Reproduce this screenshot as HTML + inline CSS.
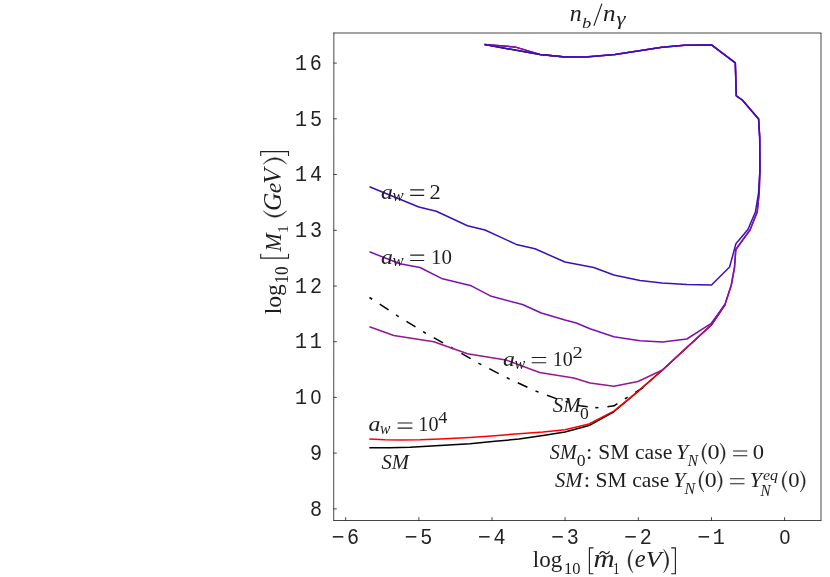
<!DOCTYPE html>
<html><head><meta charset="utf-8"><title>plot</title>
<style>
html,body{margin:0;padding:0;background:#fff;}
svg{display:block;will-change:transform;transform:translateZ(0)}
.mono text{font-family:"Liberation Mono",monospace;font-size:21.6px;letter-spacing:0;fill:#222}
.ser{font-family:"Liberation Serif",serif;font-size:21.5px;fill:#1e1e1e}
.it{font-style:italic}
.sub{font-size:15.5px}
.c{fill:none;stroke-width:1.5;stroke-linejoin:round}
</style></head><body>
<svg width="830" height="577" viewBox="0 0 830 577">
<rect x="0" y="0" width="830" height="577" fill="#fff"/>
<g stroke="#000" stroke-width="0.72" fill="none">
<line x1="333.5" y1="33" x2="821.36" y2="33"/><line x1="821" y1="33" x2="821" y2="520.5"/>
<line x1="333.85" y1="32.64" x2="333.7" y2="520.86"/><line x1="333.5" y1="520.5" x2="821.36" y2="520.5"/>
<line x1="333.5" y1="508.9" x2="336.8" y2="508.9"/><line x1="333.5" y1="453.1" x2="336.8" y2="453.1"/><line x1="333.5" y1="397.4" x2="336.8" y2="397.4"/><line x1="333.5" y1="341.7" x2="336.8" y2="341.7"/><line x1="333.5" y1="286.0" x2="336.8" y2="286.0"/><line x1="333.5" y1="230.3" x2="336.8" y2="230.3"/><line x1="333.5" y1="174.5" x2="336.8" y2="174.5"/><line x1="333.5" y1="118.8" x2="336.8" y2="118.8"/><line x1="333.5" y1="63.1" x2="336.8" y2="63.1"/><line x1="345.7" y1="520.5" x2="345.7" y2="517.2"/><line x1="418.9" y1="520.5" x2="418.9" y2="517.2"/><line x1="492.0" y1="520.5" x2="492.0" y2="517.2"/><line x1="565.1" y1="520.5" x2="565.1" y2="517.2"/><line x1="638.3" y1="520.5" x2="638.3" y2="517.2"/><line x1="711.5" y1="520.5" x2="711.5" y2="517.2"/><line x1="784.6" y1="520.5" x2="784.6" y2="517.2"/>
</g>
<g class="mono"><text transform="translate(309.97,515.56) scale(0.93,1)">8</text><text transform="translate(309.97,459.84) scale(0.93,1)">9</text><text transform="translate(310.58,404.12) scale(0.95,1)" style="font-family:'Liberation Sans',sans-serif;font-size:20.5px;letter-spacing:0">0</text><text transform="translate(295.03,404.12) scale(0.93,1)">1</text><text transform="translate(309.73,348.40) scale(0.93,1)">1</text><text transform="translate(295.03,348.40) scale(0.93,1)">1</text><text transform="translate(309.97,292.68) scale(0.93,1)">2</text><text transform="translate(295.03,292.68) scale(0.93,1)">1</text><text transform="translate(309.98,236.96) scale(0.93,1)">3</text><text transform="translate(295.03,236.96) scale(0.93,1)">1</text><text transform="translate(309.97,181.24) scale(0.93,1)">4</text><text transform="translate(295.03,181.24) scale(0.93,1)">1</text><text transform="translate(309.98,125.52) scale(0.93,1)">5</text><text transform="translate(295.03,125.52) scale(0.93,1)">1</text><text transform="translate(309.87,69.80) scale(0.93,1)">6</text><text transform="translate(295.03,69.80) scale(0.93,1)">1</text><text transform="translate(331.72,544.40) scale(1.0,1)">−</text><text transform="translate(347.07,544.40) scale(0.93,1)">6</text><text transform="translate(404.87,544.40) scale(1.0,1)">−</text><text transform="translate(420.33,544.40) scale(0.93,1)">5</text><text transform="translate(478.02,544.40) scale(1.0,1)">−</text><text transform="translate(493.47,544.40) scale(0.93,1)">4</text><text transform="translate(551.17,544.40) scale(1.0,1)">−</text><text transform="translate(566.63,544.40) scale(0.93,1)">3</text><text transform="translate(624.32,544.40) scale(1.0,1)">−</text><text transform="translate(639.77,544.40) scale(0.93,1)">2</text><text transform="translate(697.47,544.40) scale(1.0,1)">−</text><text transform="translate(712.68,544.40) scale(0.93,1)">1</text><text transform="translate(779.48,544.40) scale(0.95,1)" style="font-family:'Liberation Sans',sans-serif;font-size:20.5px;letter-spacing:0">0</text></g>
<polyline class="c" stroke="#000" stroke-width="1.8" stroke-dasharray="3.2 9 10.6 9" points="369.5,297.5 397.5,315.8 424.5,332.5 451.3,347.5 478.8,363.3 506.3,377.5 536.3,391.3 556.3,398.6 580.0,405.8 595.3,407.6"/>
<polyline class="c" stroke="#000" stroke-width="1.8" stroke-dasharray="3.2 9 10.6 9" points="595.3,407.6 596.6,407.8 607.0,406.8 614.1,405.8 626.1,398.1 643.2,387.6"/>
<polyline class="c" stroke="#000" points="725.0,304.5 711.3,325.0 686.8,347.5 662.5,370.0 638.0,391.4 613.8,411.8 589.0,425.6 565.0,431.9 543.0,435.5 519.0,439.1 495.0,441.3 470.0,443.7 440.0,445.5 410.0,447.3 390.0,447.7 369.3,447.7"/>
<polyline class="c" stroke="#000" points="484.6,44.6 540.0,54.5 565.4,57.0"/>
<polyline class="c" stroke="#ff0000" points="725.0,304.5 711.3,325.0 686.8,347.5 662.5,370.0 638.0,391.3 613.8,411.1 589.0,424.0 565.0,429.7 543.0,431.9 519.0,433.7 495.0,435.7 470.0,437.4 440.0,439.1 420.0,439.8 400.0,440.0 385.0,439.7 369.3,439.0"/>
<polyline class="c" stroke="#9a1590" points="484.6,44.6 514.8,46.9 540.0,54.4 565.4,56.9 587.5,56.7 615.0,54.5 662.0,47.2 684.5,45.2 711.5,44.9 735.3,62.8 736.3,95.8 742.3,100.0 758.6,119.0 759.7,137.5 759.9,170.0 759.2,192.5 757.2,212.0 750.0,230.0 735.8,249.5 734.5,267.5 731.3,285.0 725.0,304.5 711.3,325.0 686.8,347.5 662.5,370.0 638.0,381.5 613.8,386.2 590.0,383.0 573.8,378.0 539.6,372.5 505.8,359.9 467.5,353.8 433.8,341.8 393.8,335.5 369.5,326.8"/>
<polyline class="c" stroke="#7f10b4" points="484.6,44.6 514.8,46.9 540.0,54.4 565.4,56.9 587.5,56.7 615.0,54.5 662.0,47.2 684.5,45.2 711.5,44.9 735.3,62.8 736.3,95.8 742.3,100.0 758.6,119.0 759.7,137.5 759.9,170.0 759.2,192.5 757.2,212.0 750.0,230.0 735.8,249.5 734.5,267.5 731.3,285.0 725.0,304.5 711.3,323.3 686.8,339.0 662.5,342.0 640.0,340.8 613.8,336.8 590.0,328.8 576.3,323.0 565.0,320.0 541.3,313.0 522.5,304.5 491.3,296.3 471.3,285.8 442.5,278.8 420.0,267.5 400.0,263.8 369.5,251.8"/>
<polyline class="c" stroke="#3b10b8" points="484.6,44.6 540.0,54.6 565.4,57.0 587.5,56.9 615.0,54.6 662.0,47.2 684.5,45.2 711.5,44.9 735.3,62.8 736.3,95.8 742.3,100.0 758.6,119.0 759.7,137.5 759.9,170.0 758.6,192.5 755.4,212.0 747.9,229.5 735.9,243.8 729.6,267.0 711.5,285.0 687.0,284.5 662.0,283.0 640.0,280.5 613.8,275.0 593.8,267.5 565.0,262.0 535.0,248.8 516.3,244.4 485.0,230.0 467.5,225.8 436.3,211.3 418.8,207.0 369.5,186.8"/>
<g class="ser"><text transform="translate(569.76,20.60) scale(1.070,1)" style="font-size:22.34px;font-style:italic;">n</text><text transform="translate(582.11,28.30) scale(1.353,1)" style="font-size:13.67px;font-style:italic;">b</text><text transform="translate(603.02,20.60) scale(1.123,1)" style="font-size:22.34px;font-style:italic;">n</text><text transform="translate(616.50,24.61) scale(1.283,1)" style="font-size:17.84px;font-style:italic;">γ</text><path d="M593.9,25.9 L601.9,3.6" stroke="#1e1e1e" stroke-width="1.15" fill="none"/><text transform="translate(532.74,567.40) scale(1.000,1)" style="font-size:23.02px;">log</text><text transform="translate(563.96,573.60) scale(0.968,1)" style="font-size:16.99px;">10</text><path d="M593.5,547.9 H589.4 V573.8 H593.5" stroke="#1e1e1e" stroke-width="1.1" fill="none"/><text transform="translate(593.50,567.20) scale(1.175,1)" style="font-size:24.89px;font-style:italic;">m</text><path d="M599.6,554.2 C601.2,550.6 603.4,551.4 604.6,552.6 C605.8,553.8 608,554.6 609.6,551.2" stroke="#1e1e1e" stroke-width="1.2" fill="none"/><text transform="translate(613.06,574.20) scale(0.828,1)" style="font-size:15.76px;">1</text><path d="M632.90,549.30 C626.50,556.35 626.50,565.75 632.90,572.80 C628.57,565.75 628.57,556.35 632.90,549.30Z" fill="#1e1e1e" stroke="#1e1e1e" stroke-width="0.45" stroke-linejoin="round"/><text transform="translate(634.87,567.20) scale(0.983,1)" style="font-size:24.89px;font-style:italic;">e</text><text transform="translate(645.65,567.20) scale(1.112,1)" style="font-size:23.21px;font-style:italic;">V</text><path d="M663.60,549.30 C670.27,556.35 670.27,565.75 663.60,572.80 C668.20,565.75 668.20,556.35 663.60,549.30Z" fill="#1e1e1e" stroke="#1e1e1e" stroke-width="0.45" stroke-linejoin="round"/><path d="M671.2,547.9 H675.4 V573.8 H671.2" stroke="#1e1e1e" stroke-width="1.1" fill="none"/><text transform="rotate(-90) translate(-314.27,281.00) scale(1.006,1)" style="font-size:23.45px;">log</text><text transform="rotate(-90) translate(-283.49,288.40) scale(0.944,1)" style="font-size:18.05px;">10</text><path d="M260.7,253.7 V258.1 H288.5 V253.7" stroke="#1e1e1e" stroke-width="1.1" fill="none"/><text transform="rotate(-90) translate(-251.53,281.00) scale(0.914,1)" style="font-size:23.97px;font-style:italic;">M</text><text transform="rotate(-90) translate(-232.97,288.20) scale(1.020,1)" style="font-size:15.30px;">1</text><path d="M-210.80,263.30 C-219.33,270.32 -219.33,279.68 -210.80,286.70 C-217.27,279.68 -217.27,270.32 -210.80,263.30Z" fill="#1e1e1e" stroke="#1e1e1e" stroke-width="0.45" stroke-linejoin="round" transform="rotate(-90)"/><text transform="rotate(-90) translate(-211.09,281.20) scale(1.021,1)" style="font-size:24.75px;font-style:italic;">G</text><text transform="rotate(-90) translate(-193.32,281.20) scale(1.023,1)" style="font-size:23.40px;font-style:italic;">e</text><text transform="rotate(-90) translate(-183.71,281.20) scale(1.025,1)" style="font-size:24.27px;font-style:italic;">V</text><path d="M-164.20,263.30 C-155.67,270.32 -155.67,279.68 -164.20,286.70 C-157.73,279.68 -157.73,270.32 -164.20,263.30Z" fill="#1e1e1e" stroke="#1e1e1e" stroke-width="0.45" stroke-linejoin="round" transform="rotate(-90)"/><path d="M260.7,156 V151.6 H288.5 V156" stroke="#1e1e1e" stroke-width="1.1" fill="none"/><text transform="translate(380.89,198.70) scale(1.097,1)" style="font-size:21.70px;font-style:italic;">a</text><text transform="translate(392.38,201.40) scale(1.010,1)" style="font-size:16.52px;font-style:italic;">w</text><path d="M410.2,189.9H424.2M410.2,195.4H424.2" stroke="#1e1e1e" stroke-width="1.1" fill="none"/><text transform="translate(429.39,198.70) scale(1.028,1)" style="font-size:21.89px;">2</text><text transform="translate(380.89,263.70) scale(1.097,1)" style="font-size:21.70px;font-style:italic;">a</text><text transform="translate(392.38,266.40) scale(1.010,1)" style="font-size:16.52px;font-style:italic;">w</text><path d="M410.2,255.1H424.2M410.2,260.5H424.2" stroke="#1e1e1e" stroke-width="1.1" fill="none"/><text transform="translate(430.97,263.70) scale(0.966,1)" style="font-size:21.65px;">10</text><text transform="translate(502.99,365.70) scale(1.119,1)" style="font-size:21.28px;font-style:italic;">a</text><text transform="translate(514.50,368.60) scale(0.985,1)" style="font-size:16.30px;font-style:italic;">w</text><path d="M531.7,357.5H546.2M531.7,362.7H546.2" stroke="#1e1e1e" stroke-width="1.1" fill="none"/><text transform="translate(552.85,365.70) scale(0.930,1)" style="font-size:21.50px;">10</text><text transform="translate(572.38,358.10) scale(1.224,1)" style="font-size:16.75px;">2</text><text transform="translate(368.39,430.90) scale(1.108,1)" style="font-size:21.49px;font-style:italic;">a</text><text transform="translate(380.01,434.00) scale(0.919,1)" style="font-size:16.96px;font-style:italic;">w</text><path d="M397.6,423H412.4M397.6,428.1H412.4" stroke="#1e1e1e" stroke-width="1.1" fill="none"/><text transform="translate(418.34,430.90) scale(0.929,1)" style="font-size:21.65px;">10</text><text transform="translate(438.23,423.20) scale(1.103,1)" style="font-size:16.58px;">4</text><text transform="translate(381.54,468.50) scale(0.978,1)" style="font-size:21.13px;font-style:italic;">SM</text><text transform="translate(552.74,412.30) scale(0.991,1)" style="font-size:21.13px;font-style:italic;">SM</text><text transform="translate(580.04,419.20) scale(1.020,1)" style="font-size:17.29px;">0</text><text transform="translate(549.85,458.90) scale(0.957,1)" style="font-size:20.98px;font-style:italic;">SM</text><text transform="translate(576.64,465.90) scale(1.012,1)" style="font-size:17.44px;">0</text><text transform="translate(586.06,458.90) scale(1.149,1)" style="font-size:20.00px;">:</text><text transform="translate(598.35,458.90) scale(1.022,1)" style="font-size:20.98px;">SM</text><text transform="translate(634.99,458.80) scale(1.051,1)" style="font-size:20.64px;">case</text><text transform="translate(675.93,458.80) scale(1.050,1)" style="font-size:21.07px;font-style:italic;">Y</text><text transform="translate(687.72,465.70) scale(0.886,1)" style="font-size:17.40px;font-style:italic;">N</text><path d="M706.80,443.10 C700.40,449.43 700.40,457.87 706.80,464.20 C702.27,457.87 702.27,449.43 706.80,443.10Z" fill="#1e1e1e" stroke="#1e1e1e" stroke-width="0.45" stroke-linejoin="round"/><text transform="translate(707.39,458.90) scale(1.159,1)" style="font-size:20.90px;">0</text><path d="M720.10,443.10 C726.77,449.43 726.77,457.87 720.10,464.20 C724.90,457.87 724.90,449.43 720.10,443.10Z" fill="#1e1e1e" stroke="#1e1e1e" stroke-width="0.45" stroke-linejoin="round"/><path d="M733.1,451H747.3M733.1,455.8H747.3" stroke="#1e1e1e" stroke-width="1.1" fill="none"/><text transform="translate(752.75,458.90) scale(1.081,1)" style="font-size:20.90px;">0</text><text transform="translate(554.94,487.00) scale(0.967,1)" style="font-size:21.28px;font-style:italic;">SM</text><text transform="translate(583.66,487.00) scale(1.149,1)" style="font-size:20.00px;">:</text><text transform="translate(595.55,487.00) scale(1.011,1)" style="font-size:21.28px;">SM</text><text transform="translate(632.19,486.90) scale(1.045,1)" style="font-size:20.64px;">case</text><text transform="translate(673.33,486.90) scale(1.035,1)" style="font-size:21.37px;font-style:italic;">Y</text><text transform="translate(684.62,493.60) scale(0.902,1)" style="font-size:17.71px;font-style:italic;">N</text><path d="M703.80,470.80 C697.40,477.16 697.40,485.64 703.80,492.00 C699.27,485.64 699.27,477.16 703.80,470.80Z" fill="#1e1e1e" stroke="#1e1e1e" stroke-width="0.45" stroke-linejoin="round"/><text transform="translate(704.81,487.00) scale(1.129,1)" style="font-size:21.05px;">0</text><path d="M717.30,470.80 C723.83,477.16 723.83,485.64 717.30,492.00 C721.97,485.64 721.97,477.16 717.30,470.80Z" fill="#1e1e1e" stroke="#1e1e1e" stroke-width="0.45" stroke-linejoin="round"/><path d="M730.1,478.7H744.5M730.1,483.8H744.5" stroke="#1e1e1e" stroke-width="1.1" fill="none"/><text transform="translate(749.64,486.90) scale(1.050,1)" style="font-size:20.92px;font-style:italic;">Y</text><text transform="translate(760.61,496.30) scale(0.878,1)" style="font-size:17.25px;font-style:italic;">N</text><text transform="translate(762.92,480.20) scale(1.079,1)" style="font-size:14.89px;font-style:italic;">eq</text><path d="M787.00,470.80 C780.60,477.19 780.60,485.71 787.00,492.10 C782.47,485.71 782.47,477.19 787.00,470.80Z" fill="#1e1e1e" stroke="#1e1e1e" stroke-width="0.45" stroke-linejoin="round"/><text transform="translate(788.25,487.00) scale(1.073,1)" style="font-size:21.05px;">0</text><path d="M800.30,470.80 C806.83,477.19 806.83,485.71 800.30,492.10 C804.97,485.71 804.97,477.19 800.30,470.80Z" fill="#1e1e1e" stroke="#1e1e1e" stroke-width="0.45" stroke-linejoin="round"/></g>
</svg>
</body></html>
